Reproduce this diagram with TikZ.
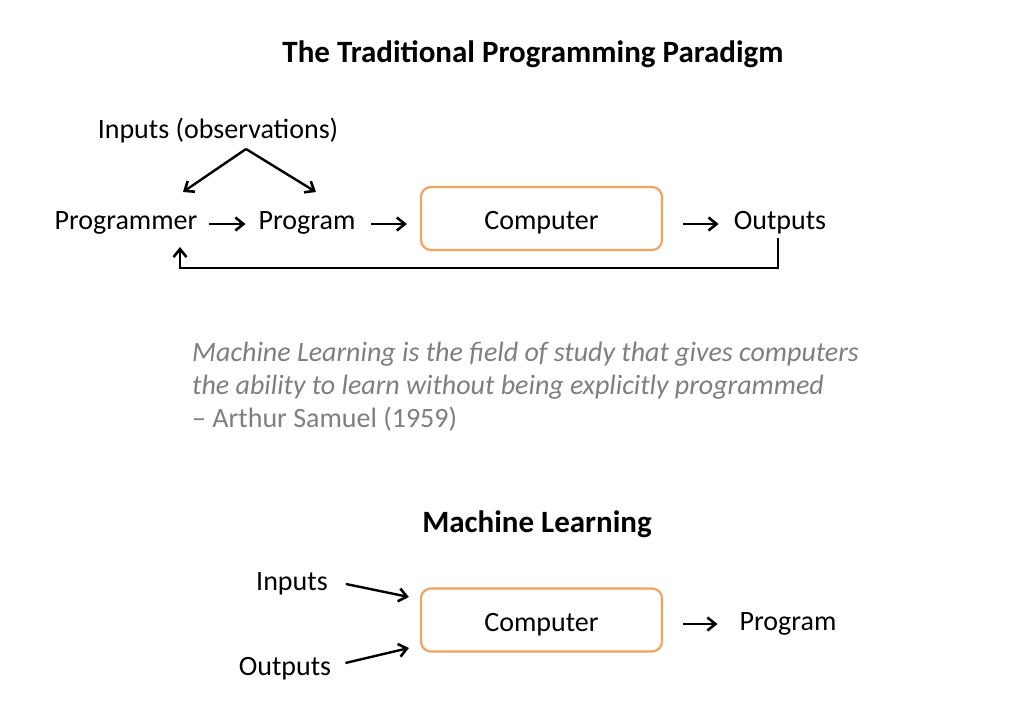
\documentclass[tikz,border=0pt]{standalone}
\usepackage{fontspec}
\setmainfont{Carlito}
\usetikzlibrary{arrows.meta}
\definecolor{boxorange}{HTML}{F2A35E}
\definecolor{quotegray}{HTML}{7F7F7F}
\begin{document}
\begin{tikzpicture}[x=1pt,y=-1pt,
  lbl/.style={font=\fontsize{28}{33}\selectfont, inner sep=0pt, anchor=center},
  ttl/.style={font=\fontsize{31}{36}\selectfont\bfseries, inner sep=0pt},
  compbox/.style={draw=boxorange, line width=2.2pt, rounded corners=10pt, minimum width=241pt, minimum height=63pt, text height=24pt, text depth=2pt, font=\fontsize{28}{33}\selectfont},
  arr/.style={-{Straight Barb[length=8pt,width=13pt,line width=2.6pt]}, line width=2.4pt, black},
  quote/.style={font=\fontsize{28}{33}\selectfont, text=quotegray, inner sep=0pt, anchor=north west, align=left}
]
\useasboundingbox (0,0) rectangle (1029,710);
\fill[white] (0,0) rectangle (1029,710);

% Traditional paradigm
\node[ttl] (t1) at (533,54) {The Traditional Programming Paradigm};
\node[lbl] (inp) at (218,131) {Inputs (observations)};
\coordinate (apex) at (246,149);
\node[lbl] (prog1) at (126,223) {Programmer};
\node[lbl] (prog2) at (307,223) {Program};
\node[compbox] (comp1) at (541.5,218.5) {Computer};
\node[lbl] (out1) at (780,223) {Outputs};

\draw[arr] (apex) -- (183,192) coordinate (a1);
\draw[arr] (apex) -- (316,192) coordinate (a2);
\draw[arr] ([xshift=11pt,yshift=-1pt]prog1.east) -- ([xshift=-13pt,yshift=-1pt]prog2.west);
\draw[arr] ([xshift=15pt,yshift=-1pt]prog2.east) -- ([xshift=-13pt,yshift=-5.5pt]comp1.west);
\draw[arr] ([xshift=20pt,yshift=-5.5pt]comp1.east) -- ([xshift=-15pt,yshift=-1pt]out1.west);
\coordinate (fb1) at (778,238);
\coordinate (fb2) at (778,268);
\coordinate (fb3) at (180,268);
\coordinate (fb4) at (180,247);
\draw[arr] (fb1) -- (fb2) -- (fb3) -- (fb4);

% Quote
\node[quote] (q) at (192,342) {\itshape Machine Learning is the field of study that gives computers\\\itshape the ability to learn without being explicitly programmed\\-- Arthur Samuel (1959)};

% Machine learning
\node[ttl] (t2) at (537,524) {Machine Learning};
\node[lbl] (inp2) at (292,584) {Inputs};
\node[lbl] (out2) at (285,669) {Outputs};
\node[compbox] (comp2) at (541.5,620) {Computer};
\node[lbl] (prog3) at (788,624) {Program};
\draw[arr] ([xshift=18pt]inp2.east) -- ([xshift=-11pt,yshift=23pt]comp2.west);
\draw[arr] ([xshift=14pt,yshift=6pt]out2.east) -- ([xshift=-11pt,yshift=-28pt]comp2.west);
\draw[arr] ([xshift=20pt,yshift=-4pt]comp2.east) -- ([xshift=-22pt]prog3.west);
\end{tikzpicture}
\end{document}
